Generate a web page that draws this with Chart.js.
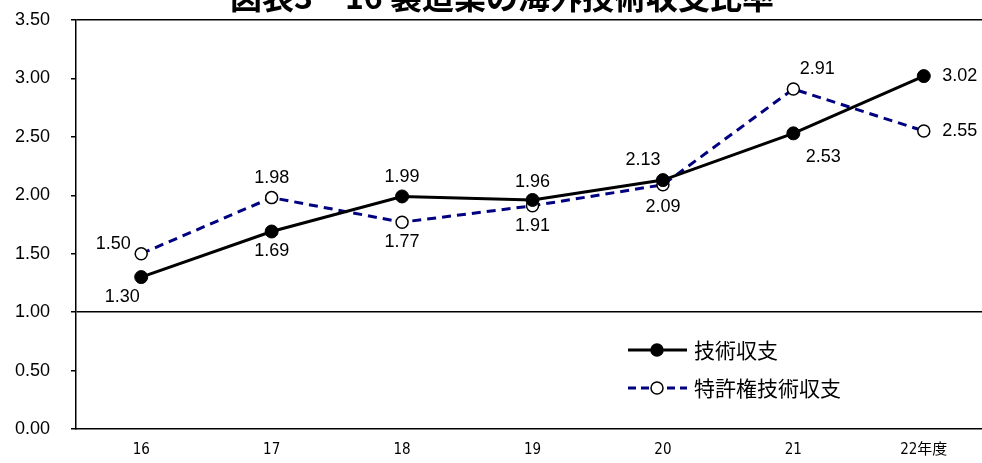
<!DOCTYPE html>
<html>
<head>
<meta charset="utf-8">
<script src="https://cdn.jsdelivr.net/npm/chart.js@4.4.0/dist/chart.umd.min.js"></script>
<style>
  html, body { margin: 0; padding: 0; background: #fff; overflow: hidden; }
  #wrap { width: 1000px; height: 463px; }
</style>
</head>
<body>
<div id="wrap"><canvas id="myChart" width="1000" height="463"></canvas></div>
<script>
var years = ['16', '17', '18', '19', '20', '21', '22年度'];
var gijutsu = [1.30, 1.69, 1.99, 1.96, 2.13, 2.53, 3.02];
var tokkyo = [1.50, 1.98, 1.77, 1.91, 2.09, 2.91, 2.55];
var yTicks = [0, 0.5, 1, 1.5, 2, 2.5, 3, 3.5];
var chartTitle = '図表3－16 製造業の海外技術収支比率';

// where each value label sits relative to its point [dx, dy]
var gijutsuLabelPos = [[-19, 20], [0, 20], [0, -19], [0, -18], [-20, -20], [30, 24], [36, 0]];
var tokkyoLabelPos = [[-28, -10], [0, -20], [0, 20], [0, 20], [0, 22], [24, -20], [36, 0]];

var jpFont = '"Noto Sans CJK JP", sans-serif';
var numFont = '"Liberation Sans", Arial, sans-serif';

var valueLabels = {
    id: 'valueLabels',
    afterDatasetsDraw: function (chart) {
        var c = chart.ctx;
        var posList = [gijutsuLabelPos, tokkyoLabelPos];
        c.save();
        c.font = '18px ' + numFont;
        c.fillStyle = '#000';
        c.textAlign = 'center';
        c.textBaseline = 'middle';
        chart.data.datasets.forEach(function (ds, i) {
            chart.getDatasetMeta(i).data.forEach(function (pt, j) {
                var p = posList[i][j];
                c.fillText(ds.data[j].toFixed(2), pt.x + p[0], pt.y + p[1]);
            });
        });
        c.restore();
    }
};

var customLegend = {
    id: 'customLegend',
    afterDraw: function (chart) {
        var c = chart.ctx;
        var rows = [
            { y: 350, color: '#000', dash: [], fill: '#000', label: '技術収支' },
            { y: 388, color: '#000080', dash: [8, 5], fill: '#fff', label: '特許権技術収支' }
        ];
        c.save();
        rows.forEach(function (r) {
            c.strokeStyle = r.color;
            c.lineWidth = 3;
            c.setLineDash(r.dash);
            c.beginPath();
            c.moveTo(628, r.y);
            c.lineTo(687, r.y);
            c.stroke();
            c.setLineDash([]);
            c.beginPath();
            c.arc(657, r.y, 6, 0, Math.PI * 2);
            c.fillStyle = r.fill;
            c.fill();
            c.lineWidth = 1.5;
            c.strokeStyle = '#000';
            c.stroke();
            c.fillStyle = '#000';
            c.font = '21px ' + jpFont;
            c.textAlign = 'left';
            c.textBaseline = 'middle';
            c.fillText(r.label, 694, r.y);
        });
        c.restore();
    }
};

var cutTitle = {
    id: 'cutTitle',
    afterDraw: function (chart) {
        var c = chart.ctx;
        c.save();
        c.font = 'bold 32px ' + jpFont;
        c.fillStyle = '#000';
        c.textAlign = 'center';
        c.textBaseline = 'alphabetic';
        c.fillText(chartTitle, 502, 9);
        c.restore();
    }
};

var ctx = document.getElementById('myChart');
var myLineChart = new Chart(ctx, {
    type: 'line',
    data: {
        labels: years,
        datasets: [
            {
                label: '技術収支',
                data: gijutsu,
                borderColor: '#000',
                borderWidth: 3,
                pointRadius: 6.5,
                pointBackgroundColor: '#000',
                pointBorderColor: '#000',
                pointBorderWidth: 1,
                tension: 0
            },
            {
                label: '特許権技術収支',
                data: tokkyo,
                borderColor: '#000080',
                borderWidth: 3,
                borderDash: [9, 6],
                pointRadius: 6,
                pointBackgroundColor: '#fff',
                pointBorderColor: '#000',
                pointBorderWidth: 1.5,
                tension: 0
            }
        ]
    },
    options: {
        responsive: false,
        animation: false,
        layout: { padding: { top: 20, right: 11, left: 0, bottom: 0 } },
        plugins: {
            legend: { display: false },
            title: { display: false },
            tooltip: { enabled: false }
        },
        scales: {
            x: {
                offset: true,
                grid: { display: false },
                border: { display: true, color: '#000', width: 1.5 },
                ticks: {
                    color: '#000',
                    padding: 4,
                    font: { family: '"DejaVu Sans Condensed", ' + jpFont, size: 15 }
                },
                afterFit: function (scale) { scale.height = 34; }
            },
            y: {
                min: 0,
                max: 3.5,
                afterBuildTicks: function (scale) {
                    scale.ticks = yTicks.map(function (v) { return { value: v }; });
                },
                grid: {
                    color: function (c) {
                        return (c.tick && (c.tick.value === 1 || c.tick.value === 3.5)) ? '#000' : 'rgba(0,0,0,0)';
                    },
                    lineWidth: 1.5,
                    tickColor: '#000',
                    tickLength: 5,
                    drawTicks: true
                },
                border: { display: true, color: '#000', width: 1.5 },
                ticks: {
                    color: '#000',
                    padding: 21,
                    font: { family: numFont, size: 18 },
                    callback: function (v) { return Number(v).toFixed(2); }
                },
                afterFit: function (scale) {
                    scale.width = 76;
                    scale.paddingTop = 0;
                    scale.paddingBottom = 0;
                }
            }
        }
    },
    plugins: [valueLabels, customLegend, cutTitle]
});
</script>
</body>
</html>
